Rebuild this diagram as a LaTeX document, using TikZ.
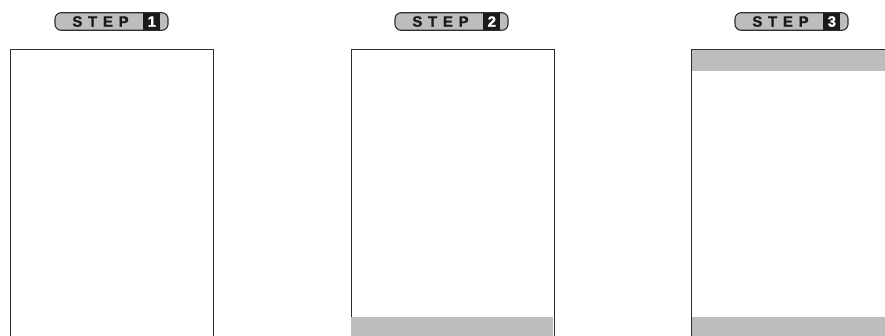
\documentclass[tikz,border=0pt]{standalone}
\usepackage{fontspec}
\setsansfont{Liberation Sans}
\usepackage{xcolor}
\definecolor{ink}{HTML}{2E2E2E}
\definecolor{shade}{HTML}{BCBDBF}
\definecolor{tabink}{HTML}{1A1A1A}
\usepackage{tikz}
\usetikzlibrary{positioning,backgrounds}
\tikzset{
  x=1pt,y=1pt,
  font=\sffamily\bfseries,
  panel/.style={draw=ink,line width=0.9pt,fill=white,anchor=north west,
                minimum width=203pt,minimum height=300pt,inner sep=0pt},
  band/.style={fill=shade,inner sep=0pt,minimum width=202pt},
  pill/.style={draw=ink,line width=1.1pt,fill=shade,rounded corners=6pt,
               minimum width=113pt,minimum height=17.5pt,inner sep=0pt},
  steptxt/.style={font=\fontsize{15}{15}\selectfont\sffamily\bfseries\addfontfeature{LetterSpace=38,FakeBold=1.2},
                  text=tabink,inner sep=0pt},
  numtab/.style={fill=tabink,text=white,inner sep=0pt,minimum width=17pt,minimum height=16.4pt,
                 font=\fontsize{15}{15}\selectfont\sffamily\bfseries\addfontfeature{FakeBold=1.2}},
}
\begin{document}
\begin{tikzpicture}
  \useasboundingbox (0,0) rectangle (885,-335);
  \clip (0,0) rectangle (885,-335);
  % frames
  \node[panel] (f1) at (10,-49) {};
  \node[panel] (f2) at (350.5,-49) {};
  \node[panel] (f3) at (691,-49) {};
  % grey strips
  \node[band,anchor=north,minimum height=28pt] (b2) at ([yshift=-268pt]f2.north) {};
  \node[band,anchor=north,minimum height=28pt] (b3) at ([yshift=-268pt]f3.north) {};
  \node[band,anchor=north,minimum height=21.5pt] (t3) at ([yshift=-0.45pt]f3.north) {};
  % step labels
  \node[pill] (p1) at (111.5,-21.5) {};
  \node[pill] (p2) at (451.5,-21.5) {};
  \node[pill] (p3) at (791.5,-21.5) {};
  \node[numtab,anchor=east] (n1) at ([xshift=-8pt]p1.east) {1};
  \node[numtab,anchor=east] (n2) at ([xshift=-8pt]p2.east) {2};
  \node[numtab,anchor=east] (n3) at ([xshift=-8pt]p3.east) {3};
  \node[steptxt] (s1) at ([xshift=-11pt]p1.center) {STEP};
  \node[steptxt] (s2) at ([xshift=-11pt]p2.center) {STEP};
  \node[steptxt] (s3) at ([xshift=-11pt]p3.center) {STEP};
\end{tikzpicture}
\end{document}
